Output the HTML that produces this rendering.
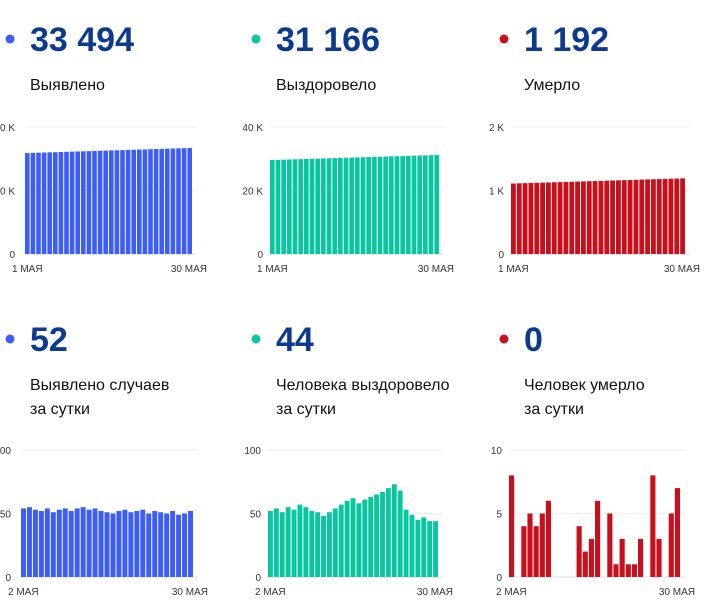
<!DOCTYPE html>
<html><head><meta charset="utf-8"><style>
html,body{margin:0;padding:0;background:#fff;width:715px;height:607px;overflow:hidden}
svg{display:block}
</style></head><body>
<svg id="s" width="715" height="607" xmlns="http://www.w3.org/2000/svg" font-family="'Liberation Sans', sans-serif"></svg>
<script>
const topCumCases = [];
for (let i = 0; i < 30; i++) topCumCases.push(31800 + i * 55);
const topCumRecovered = [];
for (let i = 0; i < 30; i++) topCumRecovered.push(29600 + i * 55);
const topCumDeaths = [];
for (let i = 0; i < 30; i++) topCumDeaths.push(1110 + i * 2.8);
const dailyCases = [54,55,53,52,54,51,53,54,52,54,55,53,54,52,51,50,52,53,51,52,53,50,52,51,50,52,49,50,52];
const dailyRecovered = [52,54,51,55,53,57,55,52,51,48,51,54,57,60,62,58,61,63,65,67,70,73,68,53,49,45,47,44,44];
const dailyDeaths = [8,0,4,5,4,5,6,0,0,0,0,4,2,3,6,0,5,1,3,1,1,3,0,8,3,0,5,7];
const topTicks = ["0","20 K","40 K"];
const deathTopTicks = ["0","1 K","2 K"];
const dailyTicks = ["0","50","100"];
const dailyDeathTicks = ["0","5","10"];

const svg = document.getElementById('s');
const NS = 'http://www.w3.org/2000/svg';
function el(tag, attrs, parent) {
  const e = document.createElementNS(NS, tag);
  for (const k in attrs) e.setAttribute(k, attrs[k]);
  (parent || svg).appendChild(e);
  return e;
}

const BLUE = '#3c5ef7', GREEN = '#08c6a0', RED = '#c8101c', NAVY = '#0c3a8e';

function header(x, y, color, num, lines, name) {
  const g = el('g', {});
  
  
  const d = el('circle', {cx: x + 1, cy: y, r: 4.5, fill: color}, g);
  
  
  const t = el('text', {x: x + 21, y: y + 12, 'font-size': 34, 'font-weight': 'bold', fill: NAVY}, g);
  t.textContent = num;
  
  
  lines.forEach((l, i) => {
    const lt = el('text', {x: x + 21, y: y + 51 + i * 24, 'font-size': 16, fill: '#111'}, g);
    lt.textContent = l;
    
    
  });
}

function chart(opt) {
  const {x0, x1, y0, y1, max, ticks, data, color, d0, d1, dateY, name, tickOff} = opt;
  const g = el('g', {});
  
  
  const ys = v => y0 - (v / max) * (y0 - y1);
  ticks.forEach((t, i) => {
    const yy = y0 - i * (y0 - y1) / (ticks.length - 1);
    const gl = el('line', {x1: x0, x2: x1 + 4, y1: yy, y2: yy, stroke: i === 0 ? '#ddd' : '#eee', 'stroke-width': 1}, g);
    
    
    const tl = el('text', {x: x0 - (tickOff || 7), y: yy + 4, 'font-size': 10, fill: '#333', 'text-anchor': 'end'}, g);
    tl.textContent = t;
    
    
  });
  const n = data.length, bw = (x1 - x0) / n;
  data.forEach((v, i) => {
    if (v <= 0) return;
    const top = ys(v);
    const r = el('rect', {x: x0 + i * bw, y: top, width: bw - 1, height: y0 - top, fill: color}, g);
    
    
  });
  const a = el('text', {x: x0 - 13, y: dateY, 'font-size': 10, fill: '#333'}, g);
  a.textContent = d0;
  
  
  const b = el('text', {x: x1 + 14, y: dateY, 'font-size': 10, fill: '#333', 'text-anchor': 'end'}, g);
  b.textContent = d1;
  
  
}

header(9, 39, BLUE, '33 494', ['Выявлено'], 'cases');
header(255, 39, GREEN, '31 166', ['Выздоровело'], 'recovered');
header(503, 39, RED, '1 192', ['Умерло'], 'deaths');
header(9, 339, BLUE, '52', ['Выявлено случаев', 'за сутки'], 'daily-cases');
header(255, 339, GREEN, '44', ['Человека выздоровело', 'за сутки'], 'daily-recovered');
header(503, 339, RED, '0', ['Человек умерло', 'за сутки'], 'daily-deaths');

chart({x0: 25, x1: 193, y0: 254, y1: 127, max: 40000, ticks: topTicks, data: topCumCases, color: BLUE, d0: '1 МАЯ', d1: '30 МАЯ', dateY: 272, name: 'cases', tickOff: 10});
chart({x0: 270, x1: 440, y0: 254, y1: 127, max: 40000, ticks: topTicks, data: topCumRecovered, color: GREEN, d0: '1 МАЯ', d1: '30 МАЯ', dateY: 272, name: 'recovered'});
chart({x0: 511, x1: 686, y0: 254, y1: 127, max: 2000, ticks: deathTopTicks, data: topCumDeaths, color: RED, d0: '1 МАЯ', d1: '30 МАЯ', dateY: 272, name: 'deaths'});
chart({x0: 21, x1: 194, y0: 577, y1: 450, max: 100, ticks: dailyTicks, data: dailyCases, color: BLUE, d0: '2 МАЯ', d1: '30 МАЯ', dateY: 595, name: 'daily-cases', tickOff: 10});
chart({x0: 268, x1: 439, y0: 577, y1: 450, max: 100, ticks: dailyTicks, data: dailyRecovered, color: GREEN, d0: '2 МАЯ', d1: '30 МАЯ', dateY: 595, name: 'daily-recovered'});
chart({x0: 509, x1: 681, y0: 577, y1: 450, max: 10, ticks: dailyDeathTicks, data: dailyDeaths, color: RED, d0: '2 МАЯ', d1: '30 МАЯ', dateY: 595, name: 'daily-deaths'});
</script>
</body></html>
